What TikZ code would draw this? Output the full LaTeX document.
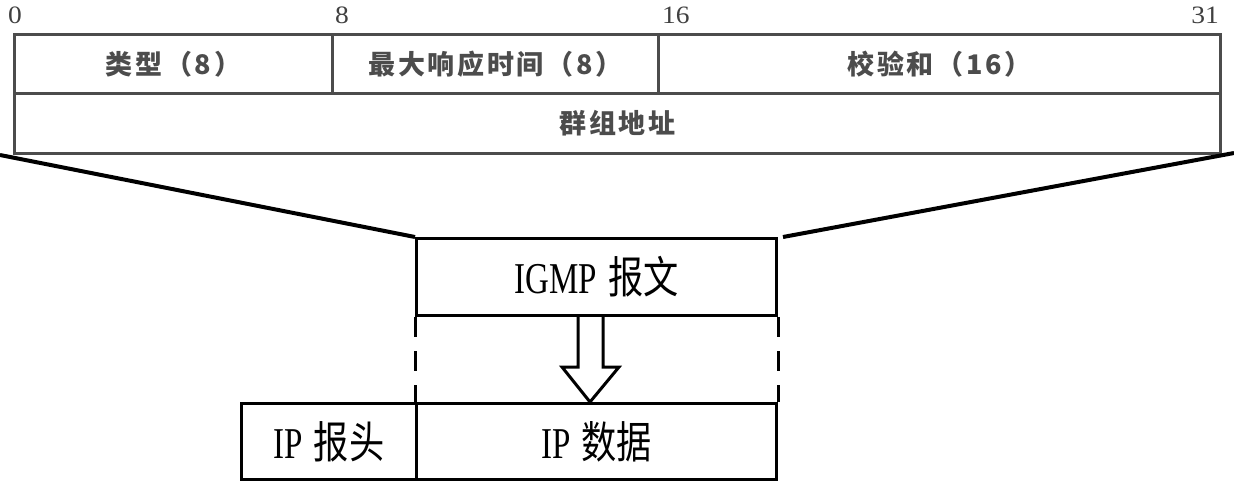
\documentclass[tikz,border=0pt]{standalone}
\usepackage{fontspec}
\setmainfont{Liberation Serif}
\newfontfamily\cjksmall[LetterSpace=10]{Noto Sans CJK SC}
\newfontfamily\cjkbig[FakeStretch=0.8]{Noto Sans CJK SC}
\newfontfamily\serifbig[FakeStretch=0.75]{Liberation Serif}
\newfontfamily\serifnum[FakeStretch=1.1]{Liberation Serif}
\begin{document}
\begin{tikzpicture}[x=1pt,y=-1pt,
  cell/.style={draw=black!70, line width=3pt, inner sep=0pt, anchor=north west,
    text=black!70, font=\cjksmall\bfseries\fontsize{27}{30}\selectfont},
  bitnum/.style={inner sep=0pt, text=black!75, font=\serifnum\fontsize{25}{27}\selectfont},
  box/.style={draw=black, line width=3pt, inner sep=0pt, anchor=north west,
    font=\fontsize{44}{48}\selectfont},
  fan/.style={draw=black, line width=4pt},
  dashedside/.style={draw=black, line width=3pt, dash pattern=on 20pt off 14pt},
  hollow/.style={draw=black, line width=3pt, line join=miter}]
\useasboundingbox (0,0) rectangle (1234,485);
% bit numbers
\node[bitnum, anchor=base west] (b0) at (8,23) {0};
\node[bitnum, anchor=base west] (b8) at (335,23) {8};
\node[bitnum, anchor=base west] (b16) at (662,23) {16};
\node[bitnum, anchor=base east] (b31) at (1219,23) {31};
% header table
\node[cell, minimum width=318pt, minimum height=59pt] (type) at (13,33) {类型（8）};
\node[cell, minimum width=326pt, minimum height=59pt] (resp) at (331,33) {最大响应时间（8）};
\node[cell, minimum width=562pt, minimum height=59pt] (csum) at (657,33) {校验和（16）};
\node[cell, minimum width=1206pt, minimum height=60pt] (group) at (13,92) {群组地址};
% lower boxes
\node[box, minimum width=360pt, minimum height=77pt] (igmp) at (415,237)
  {{\serifbig IGMP} {\cjkbig 报文}};
\node[box, minimum width=360pt, minimum height=76pt] (ipdata) at (415,402)
  {{\serifbig IP} {\cjkbig 数据}};
\node[box, minimum width=175pt, minimum height=76pt] (iphead) at (240,402)
  {{\serifbig IP} {\cjkbig 报头}};
% fan lines
\coordinate (fl) at (0,155);
\coordinate (fr) at (1234,153);
\draw[fan] (fl) -- (igmp.north west);
\draw[fan] ([xshift=5pt]igmp.north east) -- (fr);
% dashed sides
\draw[dashedside] (igmp.south west) -- (ipdata.north west);
\draw[dashedside] (igmp.south east) -- (ipdata.north east);
% hollow arrow
\draw[hollow] (578,314) -- (578,367) -- (562,367) -- (590,402) -- (619,367) -- (603,367) -- (603,314);
\end{tikzpicture}
\end{document}
